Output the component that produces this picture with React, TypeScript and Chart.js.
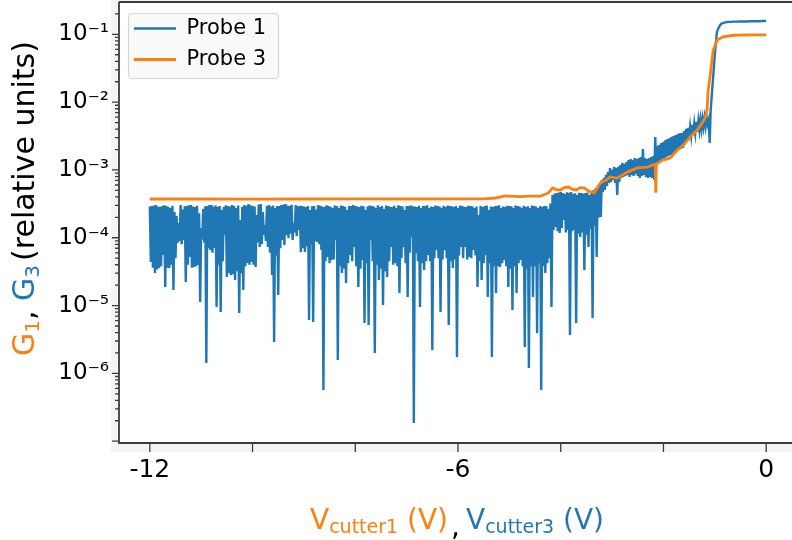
import React, { useEffect, useRef } from 'react';
import { Chart, registerables } from 'chart.js';

Chart.register(...registerables);

const BLUE = '#1f77b4';
const ORANGE = '#ff7f0e';
const AXIS = '#3c3c3c';
const FONT = 'DejaVu Sans';

// Probe 1 (blue): sweep from -12 V, 0.02 V per sample (noisy floor, then the rise)
const probe1FineStart = -12;
const probe1FineStep = 0.02;
const probe1NoiseG = [
  2.90e-4, 4.40e-5, 2.94e-4, 3.6e-5, 3.00e-4, 3.03e-5, 3.05e-4, 3.4e-5, 2.88e-4, 3.59e-5,
  2.85e-4, 3.8e-5, 2.95e-4, 5.57e-5, 3.02e-4, 1.88e-5, 2.94e-4, 3.6e-5, 2.86e-4, 3.59e-5,
  2.75e-4, 4.0e-5, 2.97e-4, 1.70e-5, 2.40e-4, 5.0e-5, 2.10e-4, 8.38e-5, 1.65e-4, 9.0e-5,
  3.05e-4, 8.0e-5, 2.60e-4, 9.28e-5, 2.92e-4, 2.23e-5, 2.94e-4, 4.0e-5, 3.02e-4, 5.21e-5,
  3.05e-4, 3.6e-5, 2.90e-4, 3.71e-5, 2.85e-4, 3.8e-5, 2.96e-4, 3.97e-5, 2.30e-4, 1.13e-5,
  1.39e-4, 9.5e-5, 2.66e-4, 8.5e-5, 2.92e-4, 1.42e-6, 2.94e-4, 7.0e-5, 3.04e-4, 6.61e-5,
  3.05e-4, 6.0e-5, 2.88e-4, 7.07e-5, 2.98e-4, 9.53e-6, 2.85e-4, 4.0e-5, 2.93e-4, 8.04e-6,
  2.57e-4, 4.5e-5, 2.85e-4, 1.10e-4, 3.00e-4, 2.64e-5, 2.94e-4, 3.0e-5, 2.90e-4, 2.83e-5,
  3.05e-4, 2.9e-5, 2.95e-4, 2.38e-5, 2.75e-4, 3.2e-5, 2.99e-4, 7.78e-6, 1.83e-4, 3.0e-5,
  2.87e-4, 1.70e-5, 3.05e-4, 3.8e-5, 2.96e-4, 4.25e-5, 3.15e-4, 4.0e-5, 3.01e-4, 4.40e-5,
  2.94e-4, 4.0e-5, 2.89e-4, 3.71e-5, 2.17e-4, 8.5e-5, 3.10e-4, 7.31e-5, 3.15e-4, 8.0e-5,
  2.40e-4, 1.10e-4, 1.54e-4, 9.0e-5, 2.95e-4, 7.31e-5, 3.05e-4, 6.0e-5, 2.90e-4, 2.83e-5,
  2.98e-4, 2.90e-6, 2.75e-4, 5.5e-5, 2.93e-4, 1.43e-5, 2.94e-4, 7.0e-5, 3.04e-4, 9.28e-5,
  3.08e-4, 7.83e-5, 3.15e-4, 1.10e-4, 3.00e-4, 9.93e-5, 2.94e-4, 1.15e-4, 3.06e-4, 9.28e-5,
  1.65e-4, 1.20e-4, 3.05e-4, 1.05e-4, 2.90e-4, 1.30e-4, 2.97e-4, 6.17e-5, 2.94e-4, 7.0e-5,
  2.88e-4, 6.17e-5, 2.85e-4, 7.5e-5, 2.95e-4, 6.13e-6, 2.57e-4, 8.0e-5, 2.91e-4, 5.73e-6,
  2.94e-4, 9.0e-5, 2.60e-4, 8.67e-5, 3.05e-4, 8.0e-5, 2.96e-4, 6.61e-5, 2.90e-4, 5.69e-7,
  2.85e-4, 4.5e-5, 3.02e-4, 5.21e-5, 2.94e-4, 4.2e-5, 2.87e-4, 4.71e-5, 2.75e-4, 4.8e-5,
  2.99e-4, 9.28e-5, 2.93e-4, 1.58e-6, 2.75e-4, 3.8e-5, 3.00e-4, 3.03e-5, 2.94e-4, 3.5e-5,
  2.86e-4, 2.15e-5, 2.57e-4, 4.2e-5, 2.95e-4, 5.57e-5, 2.94e-4, 4.5e-5, 3.03e-4, 7.31e-5,
  2.94e-4, 3.8e-5, 2.89e-4, 1.88e-5, 2.85e-4, 3.5e-5, 2.97e-4, 4.71e-5, 2.92e-4, 5.54e-6,
  2.57e-4, 4.2e-5, 2.90e-4, 5.18e-6, 2.98e-4, 9.28e-5, 2.94e-4, 4.5e-5, 2.88e-4, 2.00e-6,
  2.75e-4, 4.0e-5, 3.01e-4, 2.38e-5, 2.85e-4, 3.5e-5, 2.94e-4, 1.02e-5, 2.66e-4, 3.2e-5,
  2.99e-4, 2.64e-5, 2.94e-4, 4.5e-5, 2.87e-4, 7.31e-5, 2.85e-4, 4.0e-5, 2.96e-4, 4.25e-5,
  2.75e-4, 3.8e-5, 3.02e-4, 1.53e-5, 2.94e-4, 5.0e-5, 2.90e-4, 7.31e-5, 2.57e-4, 4.2e-5,
  2.95e-4, 1.34e-5, 2.94e-4, 6.0e-5, 3.00e-4, 1.03e-4, 2.92e-4, 1.86e-7, 2.88e-4, 5.97e-5,
  2.85e-4, 4.5e-5, 2.97e-4, 9.53e-6, 2.75e-4, 4.2e-5, 2.93e-4, 3.35e-5, 2.94e-4, 4.5e-5,
  3.01e-4, 5.57e-5, 2.75e-4, 4.5e-5, 2.90e-4, 2.21e-6, 2.85e-4, 5.0e-5, 2.98e-4, 6.61e-5,
  2.94e-4, 5.0e-5, 2.89e-4, 8.04e-6, 2.75e-4, 4.8e-5, 2.96e-4, 6.61e-5, 2.85e-4, 5.0e-5,
  3.00e-4, 5.18e-6, 2.94e-4, 4.5e-5, 2.91e-4, 3.59e-5, 2.85e-4, 4.8e-5, 2.95e-4, 1.75e-6,
  2.75e-4, 5.5e-5, 2.99e-4, 7.31e-5, 2.94e-4, 5.0e-5, 2.87e-4, 7.31e-5, 2.85e-4, 4.8e-5,
  2.97e-4, 5.21e-5, 2.94e-4, 5.0e-5, 2.92e-4, 6.61e-5, 2.75e-4, 5.5e-5, 2.90e-4, 1.88e-5,
  2.17e-4, 4.5e-5, 2.96e-4, 2.38e-5, 2.85e-4, 4.2e-5, 2.93e-4, 5.57e-5, 2.99e-4, 1.34e-5,
  2.57e-4, 4.2e-5, 2.88e-4, 1.75e-6, 2.85e-4, 3.8e-5, 2.95e-4, 1.53e-5, 2.94e-4, 3.8e-5,
  3.01e-4, 3.71e-5, 2.75e-4, 4.2e-5, 2.90e-4, 4.71e-5, 2.85e-4, 3.8e-5, 2.97e-4, 1.88e-5,
  2.94e-4, 3.5e-5, 2.92e-4, 8.61e-6, 2.75e-4, 3.8e-5, 2.99e-4, 1.53e-5, 2.94e-4, 4.2e-5,
  2.88e-4, 4.71e-5, 2.75e-4, 3.8e-5, 2.96e-4, 2.45e-6, 2.85e-4, 3.5e-5, 2.91e-4, 1.20e-6,
  2.75e-4, 3.8e-5, 2.98e-4, 1.34e-5, 2.94e-4, 3.8e-5, 2.90e-4, 3.94e-6, 2.75e-4, 4.2e-5,
  2.95e-4, 5.69e-7, 2.85e-4, 3.8e-5, 2.93e-4, 3.03e-5, 2.94e-4, 4.2e-5, 2.66e-4, 5.0e-5,
  3.20e-4, 9.53e-6, 4.28e-4, 1.30e-4, 4.50e-4, 1.44e-4, 4.58e-4, 1.25e-4, 4.65e-4, 1.18e-4,
  4.74e-4, 1.40e-4, 4.55e-4, 1.83e-4, 4.43e-4, 1.20e-4, 4.70e-4, 1.30e-4, 4.60e-4, 3.68e-6,
  4.74e-4, 1.25e-4, 4.45e-4, 1.30e-4, 4.52e-4, 5.54e-6, 4.28e-4, 1.15e-4, 4.62e-4, 1.03e-4,
  4.58e-4, 1.20e-4, 4.48e-4, 3.35e-5, 4.58e-4, 1.10e-4, 4.66e-4, 7.31e-5, 4.28e-4, 1.35e-4,
  4.80e-4, 6.56e-6, 5.07e-4, 1.50e-4, 5.40e-4, 5.21e-5, 5.81e-4, 2.00e-4, 6.00e-4, 2.03e-4,
];
const probe1RiseG = [
  7.12e-4, 4.74e-4, 7.62e-4, 5.07e-4, 8.44e-4, 5.81e-4, 9.34e-4, 6.43e-4, 1.07e-3, 6.65e-4,
  1.00e-3, 7.12e-4, 1.11e-3, 6.43e-4, 1.07e-3, 4.28e-4, 1.11e-3, 6.65e-4, 1.18e-3, 7.62e-4,
  1.27e-3, 7.88e-4, 1.23e-3, 8.16e-4, 1.31e-3, 8.44e-4, 1.40e-3, 7.88e-4, 1.45e-3, 8.44e-4,
  1.40e-3, 8.16e-4, 1.50e-3, 8.73e-4, 1.45e-3, 8.16e-4, 1.50e-3, 7.62e-4, 1.55e-3, 8.16e-4,
  2.04e-3, 8.44e-4, 1.50e-3, 7.88e-4, 1.45e-3, 7.62e-4, 1.50e-3, 7.88e-4, 1.55e-3, 7.62e-4,
  1.61e-3, 7.12e-4, 3.07e-3, 1.18e-3, 2.26e-3, 1.27e-3, 2.34e-3, 1.31e-3, 2.50e-3, 1.40e-3,
  2.59e-3, 1.50e-3, 2.77e-3, 1.55e-3, 2.86e-3, 1.61e-3, 2.96e-3, 1.66e-3, 3.07e-3, 1.72e-3,
  3.17e-3, 1.84e-3, 3.28e-3, 1.90e-3, 3.39e-3, 1.97e-3, 3.51e-3, 2.04e-3, 3.51e-3, 2.11e-3,
  3.76e-3, 2.59e-3, 4.03e-3, 2.77e-3, 4.17e-3, 2.96e-3, 4.31e-3, 3.17e-3, 4.61e-3, 3.28e-3,
  4.77e-3, 3.51e-3, 5.10e-3, 3.63e-3, 5.28e-3, 3.89e-3, 5.46e-3, 4.03e-3, 5.66e-3, 4.31e-3,
  5.85e-3, 4.46e-3, 6.05e-3, 4.77e-3, 5.46e-3, 2.50e-3,
];
// Probe 1 (blue): steep step and plateau, from -1.08 V, 0.04 V per sample
const probe1TailStart = -1.08;
const probe1TailStep = 0.04;
const probe1TailG = [
  7.67e-3, 1.99e-2, 4.97e-2, 0.108, 0.128, 0.142, 0.147, 0.150, 0.152, 0.153,
  0.153, 0.154, 0.154, 0.154, 0.155, 0.155, 0.155, 0.155, 0.155, 0.156,
  0.156, 0.156, 0.156, 0.156, 0.156, 0.157, 0.157, 0.157,
];

// Probe 3 (orange)
const probe3V = [
  -12.0, -11.0, -10.0, -9.0, -8.0, -7.0, -6.0, -5.5, -5.27, -5.08,
  -4.8, -4.6, -4.4, -4.24, -4.16, -4.08, -4.01, -3.93, -3.85, -3.78,
  -3.7, -3.62, -3.54, -3.48, -3.42, -3.35, -3.23, -3.11, -3.04, -2.9,
  -2.7, -2.51, -2.32, -2.2, -2.16, -2.15, -2.14, -2.1, -2.02, -1.87,
  -1.73, -1.61, -1.48, -1.34, -1.25, -1.19, -1.15, -1.13, -1.09, -1.03,
  -0.95, -0.84, -0.64, -0.3, 0.0,
];
const probe3G = [
  3.73e-4, 3.73e-4, 3.72e-4, 3.73e-4, 3.74e-4, 3.73e-4, 3.74e-4, 3.75e-4, 3.86e-4, 4.14e-4,
  4.05e-4, 4.12e-4, 4.10e-4, 4.58e-4, 5.43e-4, 5.10e-4, 5.07e-4, 5.50e-4, 5.60e-4, 5.20e-4,
  5.07e-4, 5.50e-4, 5.43e-4, 5.00e-4, 4.74e-4, 4.58e-4, 6.43e-4, 7.10e-4, 7.90e-4, 7.60e-4,
  9.30e-4, 1.07e-3, 1.10e-3, 1.19e-3, 1.20e-3, 4.60e-4, 1.22e-3, 1.27e-3, 1.40e-3, 1.50e-3,
  1.97e-3, 2.34e-3, 3.07e-3, 3.90e-3, 4.90e-3, 5.80e-3, 7.70e-3, 1.50e-2, 2.50e-2, 5.90e-2,
  8.30e-2, 9.20e-2, 9.70e-2, 9.80e-2, 9.80e-2,
];

const seriesLabels = ['Probe 1', 'Probe 3'];

const xTickValues = [-12, -10, -8, -6, -4, -2, 0];
const xLabelValues = [-12, -6, 0];
const xLabelTexts = ['-12', '-6', '0'];
const yMajorValues = [1e-7, 1e-6, 1e-5, 1e-4, 1e-3, 1e-2, 1e-1];
const yMajorLabels = ['', '10\u207B\u2076', '10\u207B\u2075', '10\u207B\u2074', '10\u207B\u00B3', '10\u207B\u00B2', '10\u207B\u00B9'];
const xRange = [-12.6, 0.6];
const yRange = [9.4e-8, 0.30];

const decor = {
  id: 'decor',
  afterLayout(chart: any) {
    const lg = chart.legend;
    const a = chart.chartArea;
    if (lg && a) {
      lg.left = a.left + 5;
      lg.top = a.top + 6;
      lg.right = lg.left + lg.width;
      lg.bottom = lg.top + lg.height;
    }
  },
  beforeDraw(chart: any) {
    const { ctx, chartArea: a } = chart;
    ctx.save();
    ctx.fillStyle = '#f4f4f4';
    ctx.fillRect(a.left - 8, 0, chart.width - a.left + 8, a.bottom + 9);
    ctx.fillStyle = '#ffffff';
    ctx.fillRect(a.left, a.top, a.right - a.left, a.bottom - a.top);
    const bx = a.left + 9.5, by = a.top + 11.5, bw = 150, bh = 65, r = 4;
    ctx.beginPath();
    ctx.moveTo(bx + r, by);
    ctx.lineTo(bx + bw - r, by);
    ctx.arcTo(bx + bw, by, bx + bw, by + r, r);
    ctx.lineTo(bx + bw, by + bh - r);
    ctx.arcTo(bx + bw, by + bh, bx + bw - r, by + bh, r);
    ctx.lineTo(bx + r, by + bh);
    ctx.arcTo(bx, by + bh, bx, by + bh - r, r);
    ctx.lineTo(bx, by + r);
    ctx.arcTo(bx, by, bx + r, by, r);
    ctx.closePath();
    ctx.fillStyle = 'rgba(248,248,248,0.92)';
    ctx.fill();
    ctx.strokeStyle = '#d6d6d6';
    ctx.lineWidth = 1.2;
    ctx.stroke();
    ctx.restore();
  },
  afterDraw(chart: any) {
    const { ctx, chartArea: a, scales } = chart;
    const ys = scales.y;
    const xs = scales.x;
    ctx.save();
    ctx.strokeStyle = AXIS;
    ctx.lineWidth = 1.3;
    ctx.beginPath();
    for (let e = -8; e <= 0; e++) {
      for (let m = 1; m <= 9; m++) {
        const v = m * Math.pow(10, e);
        if (v < ys.min || v > ys.max) continue;
        const py = ys.getPixelForValue(v);
        const len = m === 1 ? 7 : 4;
        ctx.moveTo(a.left - len, py);
        ctx.lineTo(a.left, py);
      }
    }
    for (const v of xTickValues) {
      const px = xs.getPixelForValue(v);
      ctx.moveTo(px, a.bottom);
      ctx.lineTo(px, a.bottom + 9);
    }
    ctx.stroke();
    ctx.lineWidth = 1.8;
    ctx.beginPath();
    ctx.moveTo(a.left, a.top);
    ctx.lineTo(a.left, a.bottom);
    ctx.lineTo(a.right, a.bottom);
    ctx.moveTo(a.left, a.top);
    ctx.lineTo(a.right, a.top);
    ctx.stroke();
    ctx.restore();
  },
};

export default function App() {
  const ref = useRef<HTMLCanvasElement>(null);

  useEffect(() => {
    const canvas = ref.current;
    if (!canvas) return;
    const fine = [...probe1NoiseG, ...probe1RiseG];
    const probe1Points = [
      ...fine.map((g, i) => ({ x: +(probe1FineStart + i * probe1FineStep).toFixed(2), y: g })),
      ...probe1TailG.map((g, i) => ({ x: +(probe1TailStart + i * probe1TailStep).toFixed(2), y: g })),
    ];
    const probe3Points = probe3V.map((v, i) => ({ x: v, y: probe3G[i] }));

    const chart = new Chart(canvas, {
      type: 'line',
      data: {
        datasets: [
          {
            label: seriesLabels[0],
            data: probe1Points,
            borderColor: BLUE,
            backgroundColor: BLUE,
            borderWidth: 2.4,
            pointRadius: 0,
            pointHoverRadius: 0,
            tension: 0,
            fill: false,
            order: 2,
          },
          {
            label: seriesLabels[1],
            data: probe3Points,
            borderColor: ORANGE,
            backgroundColor: ORANGE,
            borderWidth: 2.8,
            pointRadius: 0,
            pointHoverRadius: 0,
            tension: 0,
            fill: false,
            order: 1,
          },
        ],
      },
      options: {
        animation: false,
        responsive: false,
        devicePixelRatio: 1,
        events: [],
        layout: { padding: { left: 0, right: 15, top: 2, bottom: 0 } },
        plugins: {
          tooltip: { enabled: false },
          legend: {
            position: 'chartArea',
            align: 'start',
            labels: {
              usePointStyle: true,
              pointStyle: 'line',
              pointStyleWidth: 42,
              padding: 10,
              color: '#000',
              font: { family: FONT, size: 21 },
              sort: (a: any, b: any) => a.datasetIndex - b.datasetIndex,
            },
          },
        },
        scales: {
          x: {
            type: 'linear',
            position: 'bottom',
            min: xRange[0],
            max: xRange[1],
            afterBuildTicks: (s: any) => {
              s.ticks = xTickValues.map((v) => ({ value: v }));
            },
            afterFit: (s: any) => {
              s.height = 97;
              s.paddingLeft = 0;
              s.paddingRight = 0;
            },
            grid: { display: false, drawTicks: true, tickLength: 9 },
            border: { display: false },
            ticks: {
              autoSkip: false,
              maxRotation: 0,
              minRotation: 0,
              padding: 3,
              color: '#000',
              font: { family: FONT, size: 25 },
              callback: (v: any) => {
                const k = xLabelValues.indexOf(Number(v));
                return k >= 0 ? xLabelTexts[k] : '';
              },
            },
          },
          y: {
            type: 'logarithmic',
            position: 'left',
            min: yRange[0],
            max: yRange[1],
            afterBuildTicks: (s: any) => {
              s.ticks = yMajorValues.map((v) => ({ value: v, major: true }));
            },
            afterFit: (s: any) => {
              s.width = 119;
              s.paddingTop = 0;
              s.paddingBottom = 0;
            },
            grid: { display: false, drawTicks: true, tickLength: 7 },
            border: { display: false },
            ticks: {
              autoSkip: false,
              padding: 3,
              color: '#000',
              font: { family: FONT, size: 23 },
              callback: (v: any) => {
                const val = Number(v);
                const k = yMajorValues.findIndex((m) => Math.abs(Math.log10(m) - Math.log10(val)) < 1e-6);
                return k >= 0 ? yMajorLabels[k] : '';
              },
            },
          },
        },
      } as any,
      plugins: [decor as any],
    });
    return () => chart.destroy();
  }, []);

  const sub: React.CSSProperties = { fontSize: 19, position: 'relative', top: 4 };
  const ysub: React.CSSProperties = { fontSize: 20, position: 'relative', top: 5 };

  return (
    <div style={{ position: 'absolute', left: 0, top: 0, width: 792, height: 540, overflow: 'hidden', background: '#fff' }}>
      <canvas ref={ref} width={812} height={540} style={{ position: 'absolute', left: 0, top: 0, width: 812, height: 540 }} />
      <div
        style={{
          position: 'absolute', left: 8.5, top: 356, transformOrigin: '0 0', transform: 'rotate(-90deg)',
          whiteSpace: 'nowrap', fontFamily: FONT, fontSize: 30, lineHeight: '30px', color: '#000',
        }}
      >
        <span style={{ color: ORANGE }}>G<span style={ysub}>1</span></span>
        <span>, </span>
        <span style={{ color: BLUE }}>G<span style={ysub}>3</span></span>
        <span style={{ marginLeft: 4 }}>(relative units)</span>
      </div>
      <div style={{ position: 'absolute', left: 310, top: 506, whiteSpace: 'nowrap', fontFamily: FONT, fontSize: 28, lineHeight: '28px', color: ORANGE }}>
        V<span style={sub}>cutter1</span> (V)
      </div>
      <div style={{ position: 'absolute', left: 451, top: 513, whiteSpace: 'nowrap', fontFamily: FONT, fontSize: 28, lineHeight: '28px', color: '#000' }}>
        ,
      </div>
      <div style={{ position: 'absolute', left: 466, top: 506, whiteSpace: 'nowrap', fontFamily: FONT, fontSize: 28, lineHeight: '28px', color: BLUE }}>
        V<span style={sub}>cutter3</span> (V)
      </div>
    </div>
  );
}
